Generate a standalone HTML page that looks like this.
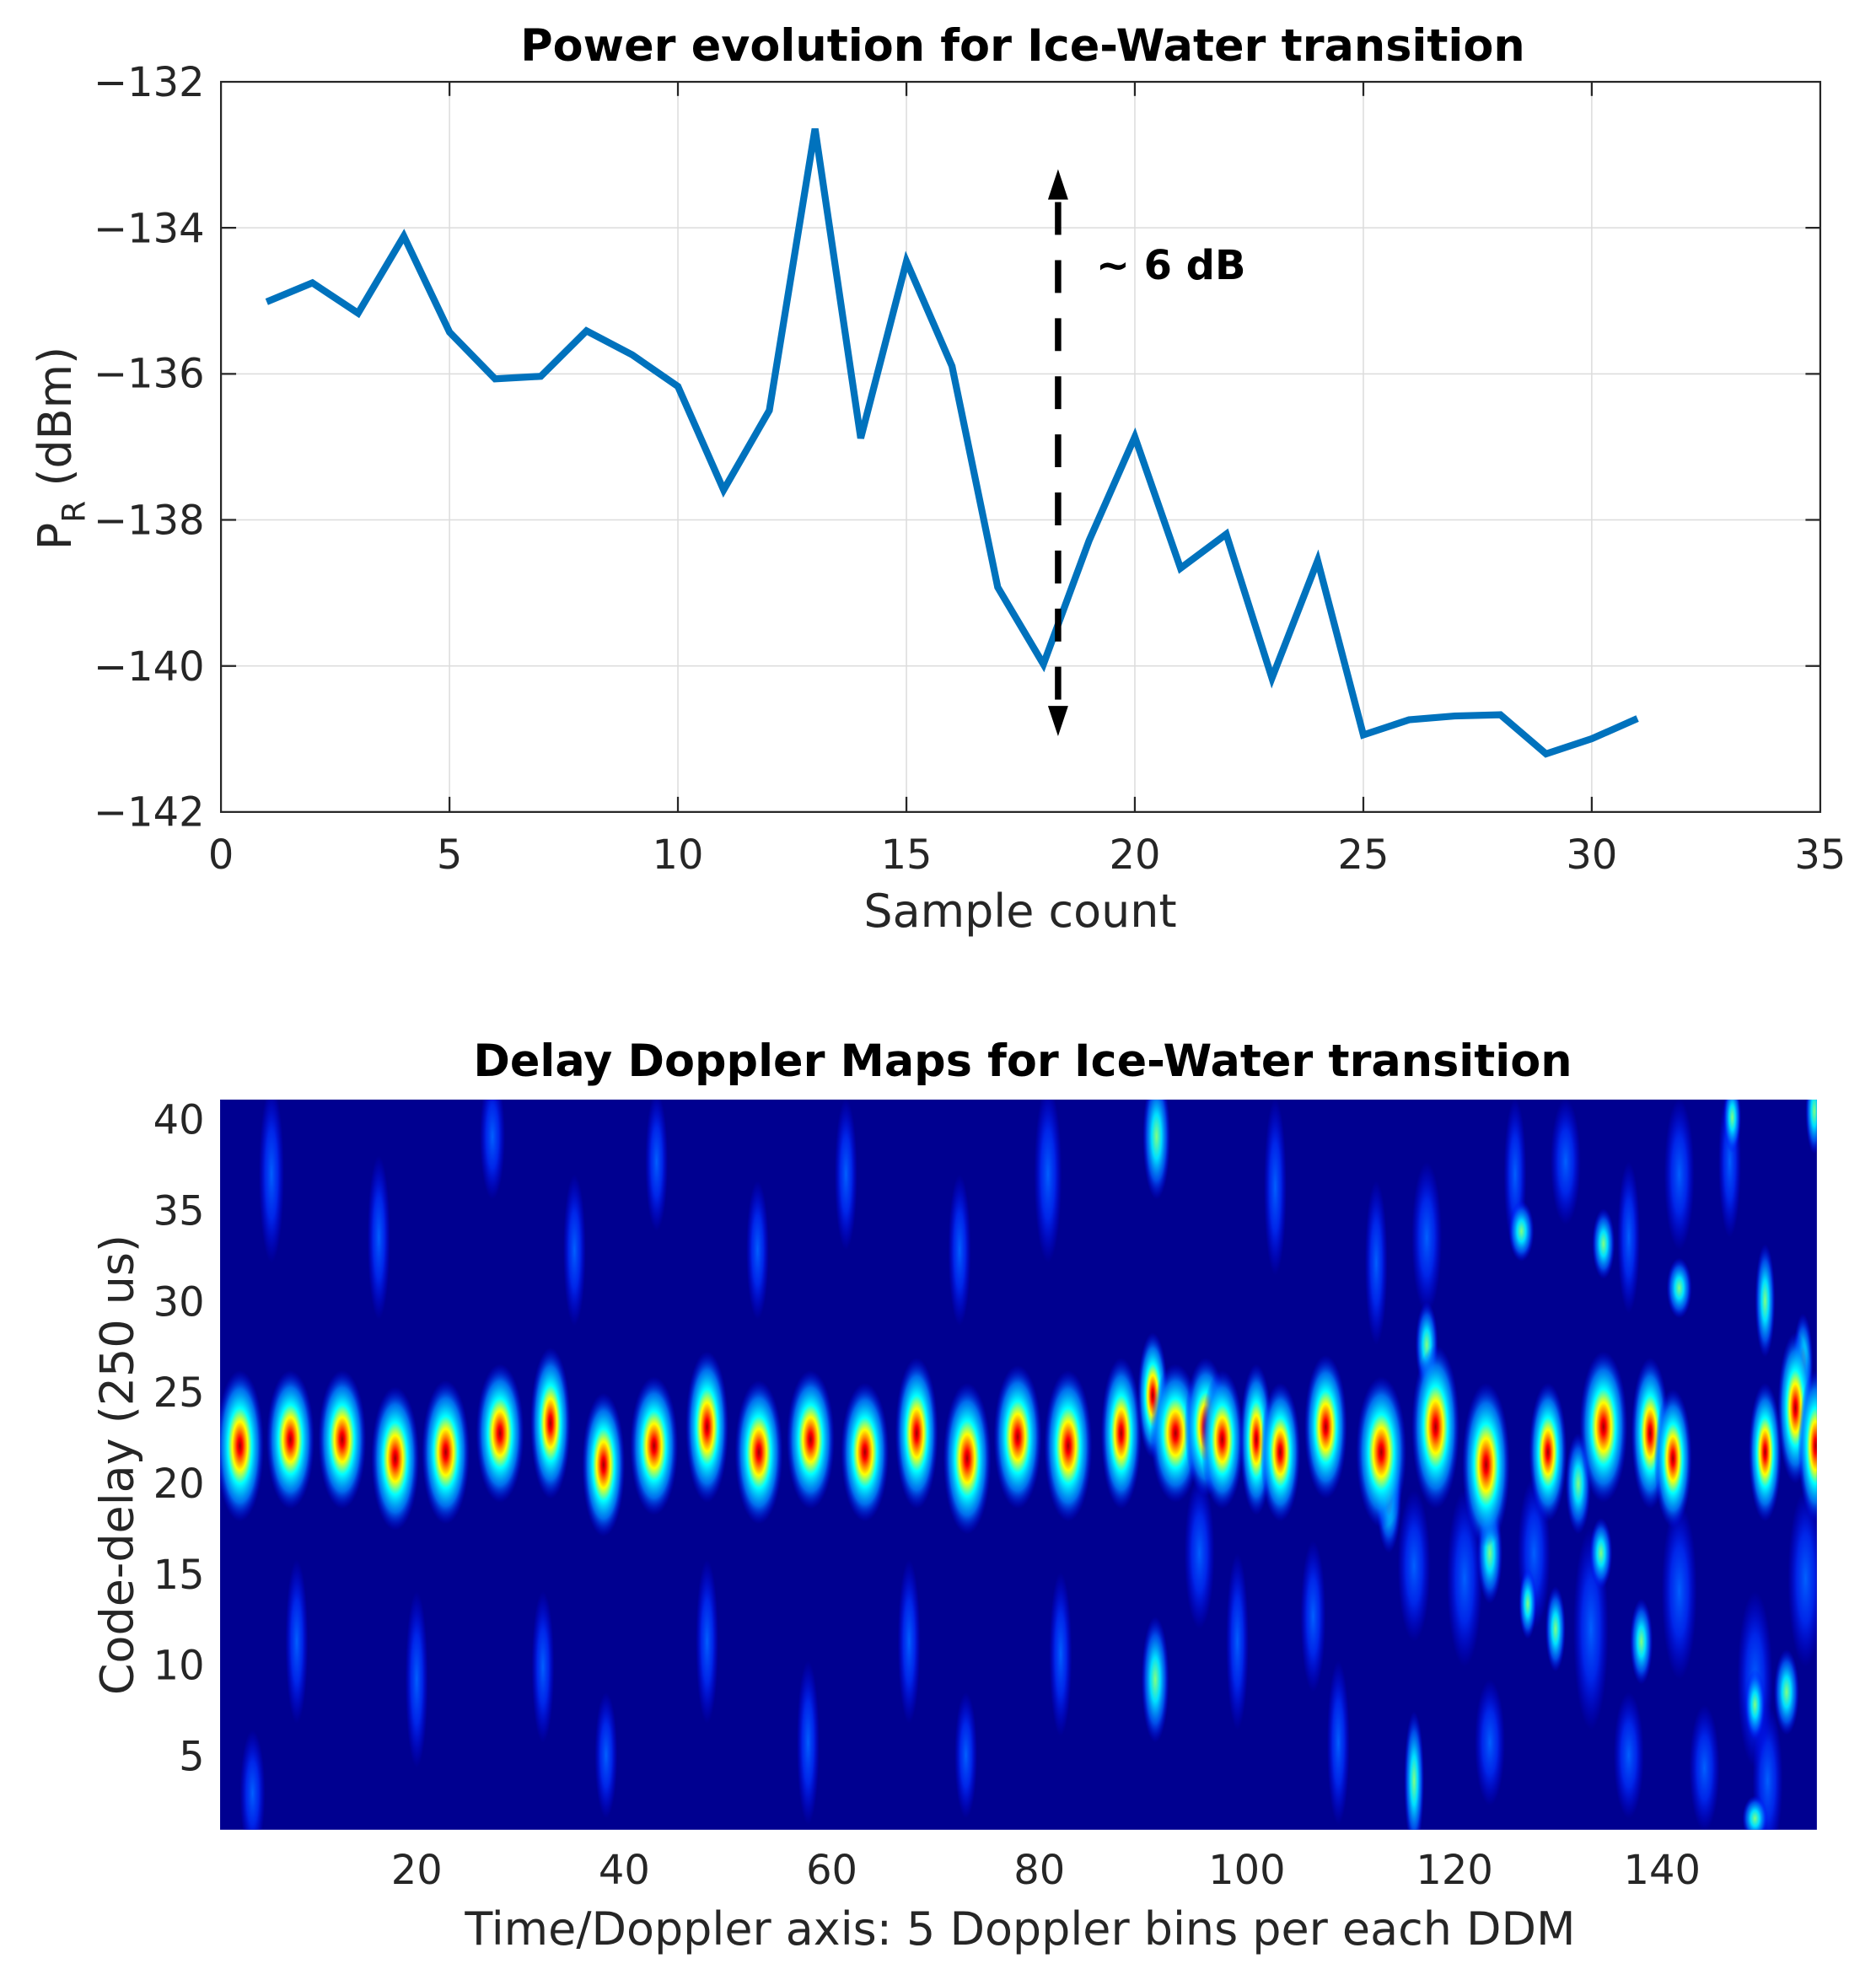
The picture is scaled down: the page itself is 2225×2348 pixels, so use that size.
<!DOCTYPE html>
<html><head><meta charset="utf-8"><style>html,body{margin:0;padding:0;background:#fff}svg{display:block}</style></head>
<body>
<svg width="2225" height="2348" viewBox="0 0 1485.8 1568" xmlns="http://www.w3.org/2000/svg" font-family="'DejaVu Sans','Liberation Sans',sans-serif">
<defs>
<radialGradient id="pk" cx="0.5" cy="0.5" r="0.5">
<stop offset="0" stop-color="#a00000"/>
<stop offset="0.1" stop-color="#ff0000"/>
<stop offset="0.22" stop-color="#ff9000"/>
<stop offset="0.32" stop-color="#ffff00"/>
<stop offset="0.5" stop-color="#00ffff"/>
<stop offset="0.75" stop-color="#0080ff" stop-opacity="0.85"/>
<stop offset="1" stop-color="#0000ff" stop-opacity="0"/>
</radialGradient>
<radialGradient id="cy" cx="0.5" cy="0.5" r="0.5">
<stop offset="0" stop-color="#80ff80"/>
<stop offset="0.35" stop-color="#00e0ff"/>
<stop offset="0.7" stop-color="#0060ff" stop-opacity="0.8"/>
<stop offset="1" stop-color="#0000ff" stop-opacity="0"/>
</radialGradient>
<radialGradient id="bl" cx="0.5" cy="0.5" r="0.5">
<stop offset="0" stop-color="#0060ff"/>
<stop offset="0.5" stop-color="#0030ff" stop-opacity="0.8"/>
<stop offset="1" stop-color="#0000ff" stop-opacity="0"/>
</radialGradient>
<clipPath id="cp"><rect x="174.3" y="870.8" width="1264.7" height="578.2"/></clipPath>
</defs>

<!-- TOP PLOT -->
<text x="810" y="48" font-size="35" font-weight="bold" text-anchor="middle" fill="#000">Power evolution for Ice-Water transition</text>
<g stroke="#dcdcdc" stroke-width="1">
<line x1="356" y1="64.8" x2="356" y2="643"/><line x1="536.9" y1="64.8" x2="536.9" y2="643"/>
<line x1="717.9" y1="64.8" x2="717.9" y2="643"/><line x1="898.8" y1="64.8" x2="898.8" y2="643"/>
<line x1="1079.8" y1="64.8" x2="1079.8" y2="643"/><line x1="1260.7" y1="64.8" x2="1260.7" y2="643"/>
<line x1="175" y1="180.4" x2="1441.7" y2="180.4"/><line x1="175" y1="296.1" x2="1441.7" y2="296.1"/>
<line x1="175" y1="411.7" x2="1441.7" y2="411.7"/><line x1="175" y1="527.4" x2="1441.7" y2="527.4"/>
</g>
<g stroke="#262626" stroke-width="1.5">
<line x1="356" y1="643" x2="356" y2="631"/><line x1="536.9" y1="643" x2="536.9" y2="631"/><line x1="717.9" y1="643" x2="717.9" y2="631"/><line x1="898.8" y1="643" x2="898.8" y2="631"/><line x1="1079.8" y1="643" x2="1079.8" y2="631"/><line x1="1260.7" y1="643" x2="1260.7" y2="631"/>
<line x1="356" y1="64.8" x2="356" y2="76"/><line x1="536.9" y1="64.8" x2="536.9" y2="76"/><line x1="717.9" y1="64.8" x2="717.9" y2="76"/><line x1="898.8" y1="64.8" x2="898.8" y2="76"/><line x1="1079.8" y1="64.8" x2="1079.8" y2="76"/><line x1="1260.7" y1="64.8" x2="1260.7" y2="76"/>
<line x1="175" y1="180.4" x2="187" y2="180.4"/><line x1="175" y1="296.1" x2="187" y2="296.1"/><line x1="175" y1="411.7" x2="187" y2="411.7"/><line x1="175" y1="527.4" x2="187" y2="527.4"/>
<line x1="1441.7" y1="180.4" x2="1430" y2="180.4"/><line x1="1441.7" y1="296.1" x2="1430" y2="296.1"/><line x1="1441.7" y1="411.7" x2="1430" y2="411.7"/><line x1="1441.7" y1="527.4" x2="1430" y2="527.4"/>
</g>
<rect x="175" y="64.8" width="1266.7" height="578.2" fill="none" stroke="#262626" stroke-width="1.5"/>
<polyline fill="none" stroke="#0072BD" stroke-width="5.5" stroke-linejoin="miter" points="211.2,239 247.4,224 283.6,248 319.8,187 356,263 392.1,300 428.3,298 464.5,262 500.7,281 536.9,306 573.1,388 609.3,325 645.5,102 681.7,347 717.9,207 754,290 790.2,465 826.4,526 862.6,428 898.8,346 935,450 971.2,423 1007.4,537 1043.6,444 1079.8,582 1116,570 1152.1,567 1188.3,566 1224.5,597 1260.7,585 1296.9,569"/>
<line x1="838" y1="152" x2="838" y2="566" stroke="#000" stroke-width="5" stroke-dasharray="26,20" stroke-dashoffset="-8"/>
<polygon points="838,134 830,158 846,158" fill="#000"/>
<polygon points="838,583 830,559 846,559" fill="#000"/>
<text x="868" y="221" font-size="32" font-weight="bold" fill="#000">~ 6 dB</text>
<g font-size="32" fill="#262626" text-anchor="end">
<text x="162" y="76">−132</text><text x="162" y="192">−134</text><text x="162" y="307">−136</text>
<text x="162" y="423">−138</text><text x="162" y="539">−140</text><text x="162" y="654">−142</text>
</g>
<g font-size="32" fill="#262626" text-anchor="middle">
<text x="175" y="688">0</text><text x="356" y="688">5</text><text x="536.9" y="688">10</text><text x="717.9" y="688">15</text>
<text x="898.8" y="688">20</text><text x="1079.8" y="688">25</text><text x="1260.7" y="688">30</text><text x="1441.7" y="688">35</text>
</g>
<text x="808" y="734" font-size="36" fill="#262626" text-anchor="middle">Sample count</text>
<text transform="translate(56,355) rotate(-90)" font-size="36" fill="#262626" text-anchor="middle">P<tspan font-size="25" dy="11">R</tspan><tspan dy="-11"> (dBm)</tspan></text>

<!-- BOTTOM PLOT -->
<text x="810" y="852" font-size="35" font-weight="bold" text-anchor="middle" fill="#000">Delay Doppler Maps for Ice-Water transition</text>
<rect x="174.3" y="870.8" width="1264.7" height="578.2" fill="#000090"/>
<g clip-path="url(#cp)">
<g fill="url(#bl)">
<ellipse cx="215" cy="930" rx="10" ry="70"/><ellipse cx="300" cy="980" rx="9" ry="65"/><ellipse cx="390" cy="900" rx="10" ry="50"/>
<ellipse cx="455" cy="990" rx="9" ry="60"/><ellipse cx="520" cy="920" rx="9" ry="55"/><ellipse cx="600" cy="990" rx="9" ry="55"/>
<ellipse cx="670" cy="930" rx="9" ry="60"/><ellipse cx="760" cy="990" rx="9" ry="60"/><ellipse cx="830" cy="930" rx="11" ry="70"/>
<ellipse cx="235" cy="1300" rx="9" ry="65"/><ellipse cx="330" cy="1330" rx="9" ry="70"/><ellipse cx="430" cy="1320" rx="9" ry="60"/>
<ellipse cx="480" cy="1390" rx="9" ry="50"/><ellipse cx="560" cy="1300" rx="9" ry="65"/><ellipse cx="640" cy="1380" rx="9" ry="65"/>
<ellipse cx="720" cy="1300" rx="9" ry="65"/><ellipse cx="765" cy="1390" rx="9" ry="50"/><ellipse cx="840" cy="1310" rx="9" ry="65"/>
<ellipse cx="980" cy="1300" rx="9" ry="70"/><ellipse cx="1060" cy="1380" rx="9" ry="65"/><ellipse cx="1010" cy="940" rx="9" ry="70"/>
<ellipse cx="1090" cy="1000" rx="9" ry="65"/><ellipse cx="1200" cy="930" rx="9" ry="60"/><ellipse cx="1290" cy="980" rx="9" ry="60"/>
<ellipse cx="1370" cy="920" rx="9" ry="60"/><ellipse cx="200" cy="1420" rx="10" ry="50"/><ellipse cx="1400" cy="1410" rx="12" ry="60"/>
<ellipse cx="1160" cy="1250" rx="14" ry="70"/><ellipse cx="1260" cy="1290" rx="14" ry="80"/><ellipse cx="1330" cy="1260" rx="14" ry="70"/>
<ellipse cx="1390" cy="1330" rx="14" ry="70"/><ellipse cx="1430" cy="1250" rx="14" ry="70"/><ellipse cx="1290" cy="1390" rx="12" ry="50"/>
<ellipse cx="1120" cy="1240" rx="13" ry="60"/><ellipse cx="1215" cy="1230" rx="13" ry="60"/><ellipse cx="950" cy="1230" rx="12" ry="60"/>
<ellipse cx="1130" cy="980" rx="12" ry="60"/><ellipse cx="1240" cy="920" rx="12" ry="50"/><ellipse cx="1330" cy="930" rx="12" ry="60"/>
<ellipse cx="1180" cy="1380" rx="12" ry="50"/><ellipse cx="1350" cy="1400" rx="12" ry="50"/><ellipse cx="1040" cy="1280" rx="10" ry="60"/>
</g>
<g fill="url(#cy)">
<ellipse cx="916" cy="900" rx="11" ry="50"/><ellipse cx="915" cy="1330" rx="11" ry="50"/><ellipse cx="1120" cy="1410" rx="8" ry="55"/>
<ellipse cx="1205" cy="975" rx="10" ry="24"/><ellipse cx="1270" cy="985" rx="9" ry="28"/><ellipse cx="1330" cy="1020" rx="10" ry="24"/>
<ellipse cx="1398" cy="1030" rx="8" ry="45"/><ellipse cx="1232" cy="1290" rx="8" ry="34"/><ellipse cx="1210" cy="1270" rx="7" ry="28"/>
<ellipse cx="1300" cy="1300" rx="9" ry="34"/><ellipse cx="1390" cy="1350" rx="8" ry="28"/><ellipse cx="1415" cy="1340" rx="10" ry="34"/>
<ellipse cx="1428" cy="1080" rx="8" ry="40"/><ellipse cx="1437" cy="880" rx="7" ry="34"/><ellipse cx="1372" cy="885" rx="7" ry="28"/>
<ellipse cx="1268" cy="1230" rx="9" ry="28"/><ellipse cx="1180" cy="1230" rx="10" ry="40"/><ellipse cx="1130" cy="1065" rx="9" ry="34"/>
<ellipse cx="1390" cy="1440" rx="10" ry="18"/><ellipse cx="1250" cy="1175" rx="10" ry="40"/><ellipse cx="1100" cy="1185" rx="10" ry="45"/>
</g>
<g fill="url(#pk)">
<ellipse cx="190" cy="1145" rx="19" ry="60"/><ellipse cx="230" cy="1140" rx="19" ry="55"/><ellipse cx="271" cy="1140" rx="19" ry="55"/>
<ellipse cx="313" cy="1155" rx="19" ry="57"/><ellipse cx="353" cy="1150" rx="19" ry="57"/><ellipse cx="396" cy="1135" rx="19" ry="55"/>
<ellipse cx="436" cy="1127" rx="16" ry="60"/><ellipse cx="478" cy="1160" rx="17" ry="57"/><ellipse cx="518" cy="1145" rx="19" ry="55"/>
<ellipse cx="560" cy="1130" rx="17" ry="60"/><ellipse cx="601" cy="1150" rx="19" ry="57"/><ellipse cx="642" cy="1140" rx="19" ry="55"/>
<ellipse cx="685" cy="1150" rx="19" ry="55"/><ellipse cx="726" cy="1135" rx="17" ry="60"/><ellipse cx="766" cy="1155" rx="19" ry="60"/>
<ellipse cx="806" cy="1138" rx="19" ry="57"/><ellipse cx="846" cy="1145" rx="19" ry="60"/><ellipse cx="888" cy="1135" rx="16" ry="60"/>
<ellipse cx="913" cy="1105" rx="12" ry="50"/><ellipse cx="931" cy="1135" rx="20" ry="55"/><ellipse cx="955" cy="1130" rx="17" ry="55"/>
<ellipse cx="968" cy="1140" rx="17" ry="55"/><ellipse cx="995" cy="1140" rx="13" ry="60"/><ellipse cx="1014" cy="1150" rx="16" ry="55"/>
<ellipse cx="1050" cy="1130" rx="17" ry="57"/><ellipse cx="1094" cy="1150" rx="20" ry="60"/><ellipse cx="1137" cy="1130" rx="19" ry="65"/>
<ellipse cx="1177" cy="1160" rx="19" ry="65"/><ellipse cx="1226" cy="1150" rx="15" ry="55"/><ellipse cx="1270" cy="1130" rx="19" ry="60"/>
<ellipse cx="1307" cy="1135" rx="15" ry="60"/><ellipse cx="1325" cy="1155" rx="15" ry="55"/><ellipse cx="1398" cy="1150" rx="13" ry="55"/>
<ellipse cx="1422" cy="1115" rx="14" ry="60"/><ellipse cx="1438" cy="1145" rx="14" ry="60"/>
</g>
</g>
<g font-size="32" fill="#262626" text-anchor="end">
<text x="162" y="898">40</text><text x="162" y="970">35</text><text x="162" y="1042">30</text><text x="162" y="1114">25</text>
<text x="162" y="1186">20</text><text x="162" y="1258">15</text><text x="162" y="1330">10</text><text x="162" y="1402">5</text>
</g>
<g font-size="32" fill="#262626" text-anchor="middle">
<text x="330" y="1492">20</text><text x="494.4" y="1492">40</text><text x="658.8" y="1492">60</text><text x="823.2" y="1492">80</text>
<text x="987.6" y="1492">100</text><text x="1152" y="1492">120</text><text x="1316.4" y="1492">140</text>
</g>
<text x="808" y="1540" font-size="36" fill="#262626" text-anchor="middle">Time/Doppler axis: 5 Doppler bins per each DDM</text>
<text transform="translate(105,1160) rotate(-90)" font-size="36" fill="#262626" text-anchor="middle">Code-delay (250 us)</text>
</svg>
</body></html>
